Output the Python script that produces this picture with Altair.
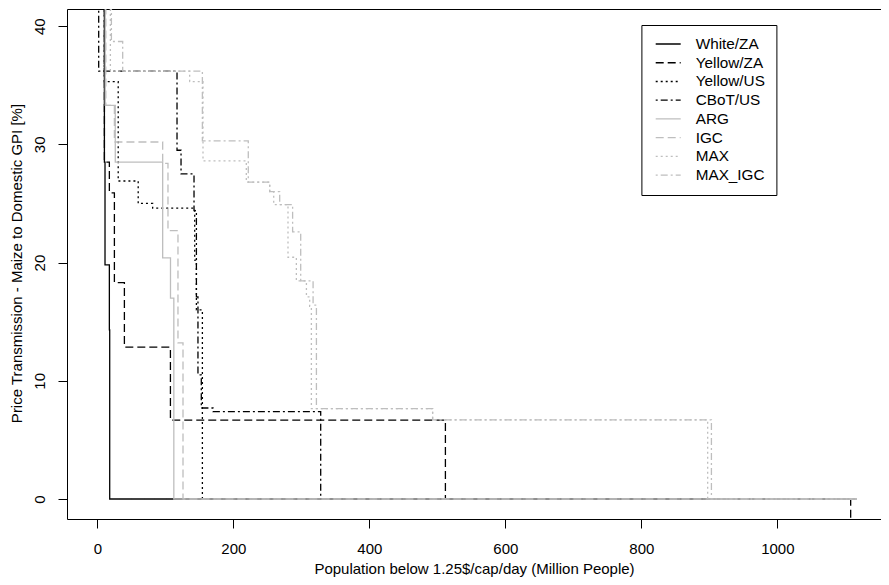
import altair as alt
import pandas as pd

# Series names and styles (legend order)
series_names = ["White/ZA", "Yellow/ZA", "Yellow/US", "CBoT/US", "ARG", "IGC", "MAX", "MAX_IGC"]
series_colors = ["#000000", "#000000", "#000000", "#000000", "#bebebe", "#bebebe", "#bebebe", "#bebebe"]
series_dashes = [[1, 0], [8, 4], [2, 3], [2, 3, 7, 3], [1, 0], [8, 4], [2, 3], [2, 3, 7, 3]]

# Step break points (x: cumulative population, y: price transmission level from that x on)
white_za_x = [0, 10.3, 11.2, 17.6, 18.1, 1117]
white_za_y = [45, 28.5, 19.8, 14.3, 0, 0]

yellow_za_x = [0, 10.3, 17.6, 25.0, 39.7, 107.4, 511.8, 1107.8]
yellow_za_y = [45, 28.5, 25.9, 18.3, 12.85, 6.67, 0, -5]

yellow_us_x = [0, 10.3, 30.6, 60.0, 81.3, 143.1, 145.6, 154.4, 1117]
yellow_us_y = [45, 35.3, 26.9, 25.0, 24.6, 20.2, 16.0, 0, 0]

cbot_us_x = [0, 1.9, 117.1, 123.0, 142.1, 145.6, 147.9, 152.8, 170.0, 328.4, 1117]
cbot_us_y = [45, 36.2, 29.5, 27.5, 24.4, 17.1, 10.5, 7.7, 7.4, 0, 0]

arg_x = [0, 11.5, 26.3, 96.0, 107.5, 112.4, 1117]
arg_y = [45, 33.3, 28.5, 20.4, 17.0, 0, 0]

igc_x = [0, 12.4, 25.0, 96.0, 103.8, 118.5, 125.9, 1117]
igc_y = [45, 33.3, 30.2, 28.4, 22.7, 13.2, 0, 0]

max_x = [0, 19.1, 135.7, 155.3, 219.0, 253.4, 259.3, 280.3, 292.6, 307.4, 312.2, 314.7, 493.0, 897.5, 1117]
max_y = [45, 36.2, 35.3, 28.6, 26.8, 26.0, 24.9, 20.45, 18.45, 17.1, 16.3, 7.65, 6.7, 0, 0]

max_igc_x = [0, 20.6, 37.2, 154.4, 221.9, 253.4, 268.1, 287.1, 299.0, 317.2, 322.1, 493.0, 903.0, 1117]
max_igc_y = [45, 38.7, 36.2, 30.3, 26.8, 26.0, 24.9, 22.6, 18.45, 16.4, 7.65, 6.7, 0, 0]

x_ticks = [0, 200, 400, 600, 800, 1000]
y_ticks = [0, 10, 20, 30, 40]

all_x = [white_za_x, yellow_za_x, yellow_us_x, cbot_us_x, arg_x, igc_x, max_x, max_igc_x]
all_y = [white_za_y, yellow_za_y, yellow_us_y, cbot_us_y, arg_y, igc_y, max_y, max_igc_y]

rows = []
for s, (xs, ys) in enumerate(zip(all_x, all_y)):
    for i, (xv, yv) in enumerate(zip(xs, ys)):
        rows.append({"series": series_names[s], "sidx": s, "idx": i, "x": xv, "y": yv})
df = pd.DataFrame(rows)

FONT = "Liberation Sans"

legend_opts = dict(orient="none", legendX=574.4, legendY=16, title=None,
                   strokeColor="black", fillColor="white", padding=11.5,
                   symbolType="stroke", symbolSize=625, symbolStrokeWidth=1.3,
                   symbolOffset=1.8,
                   labelFontSize=15.3, labelFont=FONT, labelColor="black",
                   labelOffset=14, rowPadding=2.74, clipHeight=15)

chart = alt.Chart(df).mark_line(
    clip=True, strokeWidth=1.3, interpolate="step-after"
).encode(
    x=alt.X("x:Q",
            scale=alt.Scale(domain=[-44.7, 1152.4], nice=False, zero=False),
            axis=alt.Axis(values=x_ticks, title="Population below 1.25$/cap/day (Million People)",
                          grid=False, domain=False, tickSize=9, labelPadding=13,
                          titleY=49.5, titleBaseline="middle", format="d")),
    y=alt.Y("y:Q",
            scale=alt.Scale(domain=[-1.69, 41.45], nice=False, zero=False),
            axis=alt.Axis(values=y_ticks, title="Price Transmission - Maize to Domestic GPI [%]",
                          grid=False, domain=False, tickSize=9, labelAngle=-90,
                          labelAlign="center", labelBaseline="middle", labelPadding=19,
                          titleX=-50.5, titleY=254, titleBaseline="middle", titleAngle=-90)),
    color=alt.Color("series:N",
                    scale=alt.Scale(domain=series_names, range=series_colors),
                    sort=series_names,
                    legend=alt.Legend(**legend_opts)),
    strokeDash=alt.StrokeDash("series:N",
                              scale=alt.Scale(domain=series_names, range=series_dashes),
                              sort=series_names,
                              legend=alt.Legend(**legend_opts)),
    order=alt.Order("idx:Q"),
).properties(
    width=814,
    height=510,
    autosize=alt.AutoSizeParams(type="none"),
    padding={"left": 59, "top": 1, "right": 0, "bottom": 60},
).configure_view(
    stroke="black", strokeWidth=1
).configure_axis(
    labelFont=FONT, titleFont=FONT, labelFontSize=15, titleFontSize=15,
    labelColor="black", titleColor="black", tickColor="black", tickWidth=1,
    titleFontWeight="normal"
)

chart.save("out.html", embed_options={"renderer": "svg", "actions": False})
